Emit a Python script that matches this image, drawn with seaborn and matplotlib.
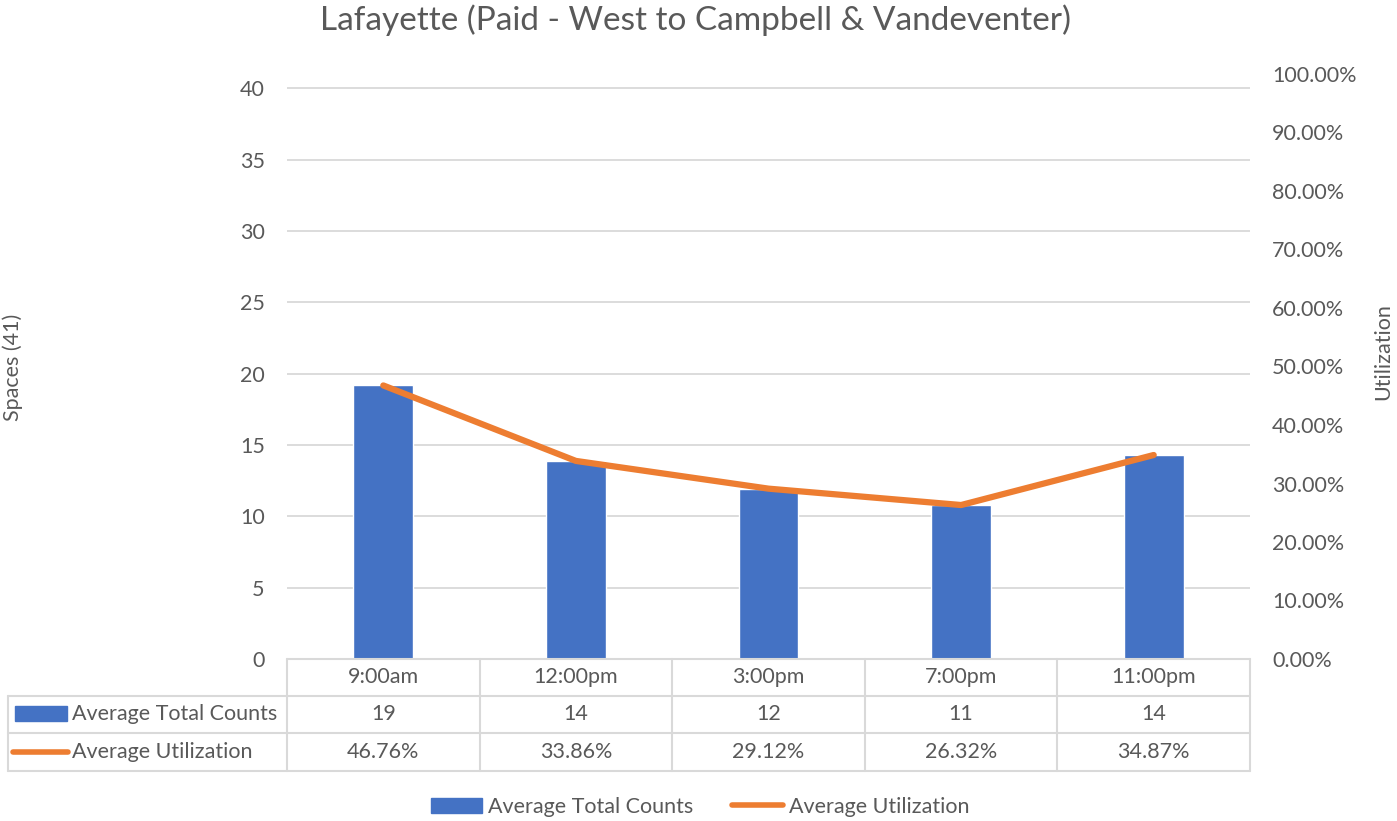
import numpy as np
import pandas as pd
import matplotlib
matplotlib.use("Agg")
import matplotlib.pyplot as plt
import seaborn as sns
from matplotlib.lines import Line2D
from matplotlib.patches import Patch

# Datos
times = ["9:00am", "12:00pm", "3:00pm", "7:00pm", "11:00pm"]
avg_counts = [19.17, 13.88, 11.94, 10.79, 14.30]
avg_util = [0.4676, 0.3386, 0.2912, 0.2632, 0.3487]
left_ticks = [0, 5, 10, 15, 20, 25, 30, 35, 40]
right_ticks = [0.0, 0.1, 0.2, 0.3, 0.4, 0.5, 0.6, 0.7, 0.8, 0.9, 1.0]

BLUE = "#4472c4"
ORANGE = "#ed7d31"
GRID = "#d9d9d9"
TEXT = "#595959"
FS = 15.5

W, H = 1397, 821

sns.set_theme(style="white")
plt.rcParams["font.family"] = ["Lato", "DejaVu Sans"]


def px(x, y):
    """Pixeles de la imagen -> fraccion de figura."""
    return x / W, 1 - y / H


fig = plt.figure(figsize=(W / 100, H / 100), dpi=100)
x0, y_top = px(287, 74)
x1, y_bot = px(1250, 659)
ax = fig.add_axes([x0, y_bot, x1 - x0, y_top - y_bot])

df = pd.DataFrame({"time": times, "counts": avg_counts, "util": avg_util})
sns.barplot(data=df, x="time", y="counts", color=BLUE, width=0.31,
            saturation=1, ax=ax)
ax.set_xlim(-0.5, len(times) - 0.5)
ax.set_ylim(0, 41)
ax.set_yticks(left_ticks)
ax.yaxis.grid(True, color=GRID, linewidth=1.3)
ax.set_axisbelow(True)
ax.tick_params(axis="y", length=0, labelsize=FS, labelcolor=TEXT, pad=16)
ax.tick_params(axis="x", length=0, labelbottom=False)
ax.set_xlabel("")
ax.set_ylabel("")
for s in ax.spines.values():
    s.set_visible(False)

ax2 = ax.twinx()
sns.lineplot(x=np.arange(len(times)), y=df["util"], color=ORANGE,
             linewidth=4.5, ax=ax2)
ax2.set_ylim(0, 1)
ax2.set_yticks(right_ticks)
ax2.set_yticklabels([f"{v * 100:.2f}%" for v in right_ticks])
ax2.tick_params(axis="y", length=0, labelsize=FS, labelcolor=TEXT, pad=16)
ax2.set_ylabel("")
for s in ax2.spines.values():
    s.set_visible(False)

# Titulos
fig.text(*px(696, 20), "Lafayette (Paid - West to Campbell & Vandeventer)",
         ha="center", va="center", fontsize=24, color=TEXT)
fig.text(*px(13, 367), "Spaces (41)", rotation=90, ha="center",
         va="center", fontsize=FS, color=TEXT)
fig.text(*px(1383, 352), "Utilization", rotation=90, ha="center",
         va="center", fontsize=FS, color=TEXT)

# Tabla de datos
col_w = (1250 - 287) / len(times)
rows_y = [659, 696, 733, 771]
line_kw = dict(color=GRID, linewidth=1.5, transform=fig.transFigure)

fig.add_artist(Line2D(*zip(px(287, 659), px(1250, 659)), **line_kw))
for yy in rows_y[1:]:
    fig.add_artist(Line2D(*zip(px(8, yy), px(1250, yy)), **line_kw))
fig.add_artist(Line2D(*zip(px(8, 696), px(8, 771)), **line_kw))
for i in range(len(times) + 1):
    xx = 287 + i * col_w
    fig.add_artist(Line2D(*zip(px(xx, 659), px(xx, 771)), **line_kw))

for i, t in enumerate(times):
    cx = 287 + (i + 0.5) * col_w
    fig.text(*px(cx, 677), t, ha="center", va="center", fontsize=FS,
             color=TEXT)
    fig.text(*px(cx, 714), f"{avg_counts[i]:.0f}", ha="center",
             va="center", fontsize=FS, color=TEXT)
    fig.text(*px(cx, 752), f"{avg_util[i] * 100:.2f}%", ha="center",
             va="center", fontsize=FS, color=TEXT)

# Claves de la tabla
bx0, by0 = px(15, 721)
bx1, by1 = px(67, 706)
fig.add_artist(plt.Rectangle((bx0, by0), bx1 - bx0, by1 - by0,
                             color=BLUE, transform=fig.transFigure))
fig.add_artist(Line2D(*zip(px(13, 752), px(68, 752)), color=ORANGE,
                      linewidth=4, solid_capstyle="round",
                      transform=fig.transFigure))
fig.text(*px(72, 714), "Average Total Counts", ha="left", va="center",
         fontsize=FS, color=TEXT)
fig.text(*px(72, 752), "Average Utilization", ha="left", va="center",
         fontsize=FS, color=TEXT)

# Leyenda inferior
handles = [
    Patch(color=BLUE, label="Average Total Counts"),
    Line2D([], [], color=ORANGE, linewidth=4, label="Average Utilization"),
]
fig.legend(handles=handles, loc="center", bbox_to_anchor=px(700, 807),
           ncol=2, frameon=False, fontsize=FS, labelcolor=TEXT,
           handlelength=2.4, handleheight=0.7, handletextpad=0.25,
           columnspacing=1.8)

fig.savefig("out.png", dpi=100)
plt.close(fig)
